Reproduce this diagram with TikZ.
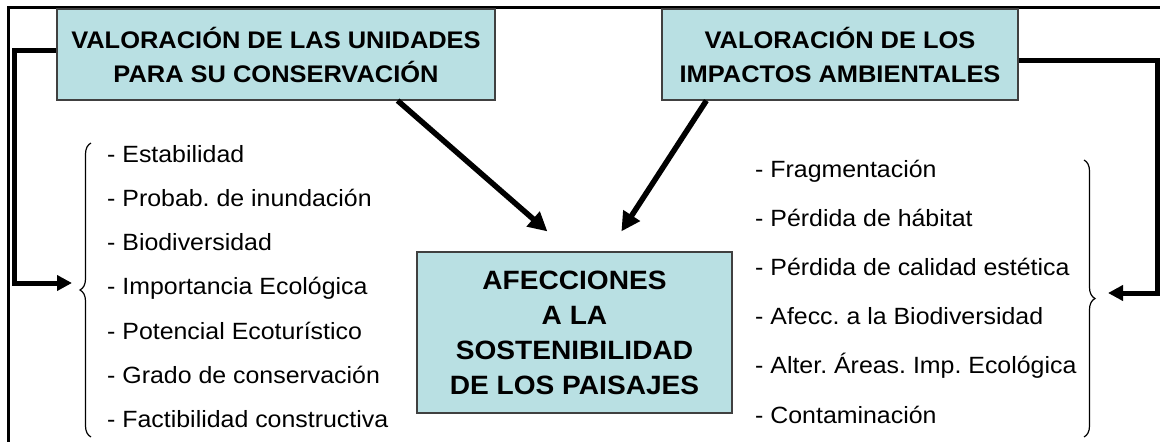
\documentclass[tikz,border=0pt]{standalone}
\usepackage{fontspec}
\setmainfont[FakeStretch=1.06]{Liberation Sans}
\usetikzlibrary{arrows.meta,calc,decorations.pathreplacing}
\definecolor{boxfill}{HTML}{B9E0E3}
\definecolor{boxline}{HTML}{404040}
\frenchspacing
\tikzset{
  titlebox/.style={draw=boxline, line width=1.2pt, fill=boxfill, align=center, inner sep=0pt,
    font=\fontsize{24}{34}\selectfont\bfseries},
  item/.style={anchor=base west, inner sep=0pt, font=\fontsize{23.5}{28}\selectfont},
  thick connector/.style={line width=5pt},
  frame line/.style={line width=3pt},
  bracestyle/.style={line width=1.2pt, decorate, decoration={brace, amplitude=11pt}},
  bigarrow/.style={line width=5.5pt, -{Triangle[length=19pt,width=19pt]}},
  sidearrow/.style={line width=5pt, -{Triangle[length=15pt,width=15pt]}}
}
\begin{document}
\begin{tikzpicture}[x=1pt,y=-1pt]
\useasboundingbox (0,0) rectangle (1160,442);
% frame
\draw[frame line] (8.5,442) -- (8.5,7) -- (1160,7);
% boxes
\node[titlebox, minimum width=438pt, minimum height=91pt] (lbox) at (276,54.5)
  {VALORACIÓN DE LAS UNIDADES\\PARA SU CONSERVACIÓN};
\node[titlebox, minimum width=356pt, minimum height=91pt] (rbox) at (840,54.5)
  {VALORACIÓN DE LOS\\IMPACTOS AMBIENTALES};
\node[titlebox, minimum width=315pt, minimum height=161pt,
  font=\fontsize{26.5}{35}\selectfont\bfseries] (cbox) at (574.5,332.5)
  {AFECCIONES\\A LA\\SOSTENIBILIDAD\\DE LOS PAISAJES};
% left list
\node[item] (l1) at (107,162) {- Estabilidad};
\node[item] (l2) at (107,206.3) {- Probab. de inundación};
\node[item] (l3) at (107,250.6) {- Biodiversidad};
\node[item] (l4) at (107,294.9) {- Importancia Ecológica};
\node[item] (l5) at (107,339.2) {- Potencial Ecoturístico};
\node[item] (l6) at (107,383.5) {- Grado de conservación};
\node[item] (l7) at (107,427.8) {- Factibilidad constructiva};
% right list
\node[item] (r1) at (755,177) {- Fragmentación};
\node[item] (r2) at (755,226.2) {- Pérdida de hábitat};
\node[item] (r3) at (755,275.4) {- Pérdida de calidad estética};
\node[item] (r4) at (755,324.6) {- Afecc. a la Biodiversidad};
\node[item] (r5) at (755,373.8) {- Alter. Áreas. Imp. Ecológica};
\node[item] (r6) at (755,423) {- Contaminación};
% braces
\coordinate (lbt) at (91,143);
\coordinate (lbb) at (91,437);
\draw[bracestyle] (lbb) -- (lbt);
\coordinate (rbt) at (1084,160);
\coordinate (rbb) at (1084,437);
\draw[bracestyle] (rbt) -- (rbb);
\coordinate (lbtip) at (72,283);
\coordinate (rbtip) at (1108,293);
% side connectors
\draw[sidearrow] ($(lbox.west)+(0,-4.5)$) -| (14,283) -- (lbtip);
\draw[sidearrow] ($(rbox.east)+(0,5.5)$) -| (1157,293) -- (rbtip);
% diagonal arrows
\draw[bigarrow] ($(lbox.south east)+(-98,0)$) -- ($(cbox.north west)+(131,-20)$);
\draw[bigarrow] ($(rbox.south west)+(45,0)$) -- ($(cbox.north west)+(205,-20)$);
\end{tikzpicture}
\end{document}
